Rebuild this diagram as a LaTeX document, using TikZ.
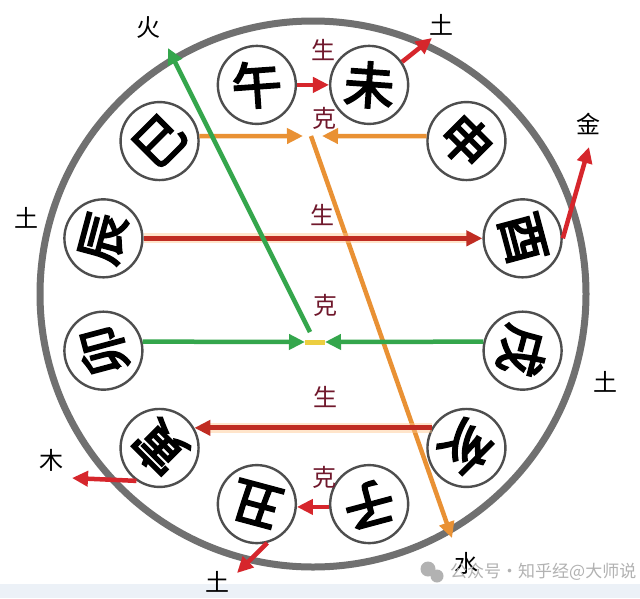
\documentclass[tikz,border=0pt]{standalone}
\usepackage{fontspec}
\newfontfamily\cjk{Noto Sans CJK SC}
\newfontfamily\cjkb[FakeBold=4]{Noto Sans CJK SC}
\usetikzlibrary{arrows.meta}
\definecolor{arrowred}{RGB}{214,38,44}
\definecolor{deepred}{RGB}{192,44,34}
\definecolor{orangeA}{RGB}{233,145,52}
\definecolor{greenA}{RGB}{52,166,76}
\definecolor{yellowA}{RGB}{236,206,64}
\definecolor{labelred}{RGB}{112,24,44}
\definecolor{circgray}{RGB}{78,78,78}
\definecolor{ringgray}{RGB}{112,112,112}
\definecolor{wmgray}{RGB}{178,178,178}
\definecolor{bandblue}{RGB}{236,241,247}
\tikzset{
  tip/.style={-{Triangle[length=16pt,width=15pt]}},
  redarrow/.style={tip, draw=arrowred, line width=4.5pt},
  deeparrow/.style={tip, draw=deepred, line width=5pt,
    preaction={draw, -, line width=10pt, draw=orange!45, opacity=0.45, shorten >=14pt}},
  orangearrow/.style={tip, draw=orangeA, line width=4.5pt},
  greenarrow/.style={tip, draw=greenA, line width=4.5pt},
  branch/.style={circle, draw=circgray, line width=2.4pt, fill=white, minimum size=78pt, inner sep=0pt},
  glyph/.style={font=\cjkb\fontsize{50}{50}\selectfont, inner sep=0pt},
  rel/.style={font=\cjk\fontsize{24}{24}\selectfont, text=labelred, inner sep=0pt},
  elem/.style={font=\cjk\fontsize{24}{24}\selectfont, text=black, inner sep=0pt},
}
\begin{document}
\begin{tikzpicture}[x=1pt,y=-1pt]
\useasboundingbox (0,0) rectangle (640,598);
\fill[white] (0,0) rectangle (640,598);
\fill[bandblue] (0,584) rectangle (640,598);
% outer ring
\draw[ringgray, line width=7pt] (313,294) circle[radius=273];

% branch circles (positions on radius 217 around (313,294.5))
\foreach \nm/\ang in {wu/105, wei/75, shen/45, you/15, xu/-15, hai/-45, zi/-75, chou/-105, yin/-135, mao/-165, chen/165, si/135}{
  \node[branch] (\nm) at ({313+217*cos(\ang)},{294.5-217*sin(\ang)}) {};
}

% coordinates for free ends
\coordinate (oL) at (303,136);
\coordinate (oR) at (322,136);
\coordinate (oS) at (311,136);
\coordinate (shuiTip) at (452,538);
\coordinate (gL) at (305,342);
\coordinate (gR) at (325,342);
\coordinate (gS) at (310,332);
\coordinate (huoTip) at (168,48);
\coordinate (tuTopTip) at (432,38);
\coordinate (jinTip) at (589,147);
\coordinate (muTip) at (72,478);
\coordinate (tuBotTip) at (237,573);

% orange: si -> , shen -> , diagonal to water
\draw[orangearrow] (oS) -- (shuiTip);
\draw[orangearrow] (si.7) -- (oL);
\draw[orangearrow] (shen.173) -- (oR);

% red chen -> you
\draw[deeparrow] (chen.east) -- (you.west);

% yellow joint and green arrows
\draw[yellowA, line width=5pt] (gL) -- (gR);
\draw[greenarrow] (mao.13) -- (gL);
\draw[greenarrow] (xu.167) -- (gR);
\draw[greenarrow] (gS) -- (huoTip);

% red hai -> yin
\draw[deeparrow] (hai.150) -- (yin.30);

% short red arrows
\draw[redarrow] (wu.east) -- (wei.west);
\draw[redarrow] (zi.184) -- (chou.-4);
\draw[redarrow] (wei.35) -- (tuTopTip);
\draw[redarrow] (you.east) -- (jinTip);
\draw[redarrow] (yin.235) -- (muTip);
\draw[redarrow] (chou.-75) -- (tuBotTip);

% glyphs
\node[glyph] (gwu)   at (wu)   {\rotatebox[origin=c]{4}{午}};
\node[glyph] (gwei)  at (wei)  {\rotatebox[origin=c]{-4}{未}};
\node[glyph] (gshen) at (shen) {\rotatebox[origin=c]{-45}{申}};
\node[glyph] (gyou)  at (you)  {\rotatebox[origin=c]{-75}{酉}};
\node[glyph] (gxu)   at (xu)   {\rotatebox[origin=c]{-105}{戌}};
\node[glyph] (ghai)  at (hai)  {\rotatebox[origin=c]{-135}{亥}};
\node[glyph] (gzi)   at (zi)   {\rotatebox[origin=c]{-165}{子}};
\node[glyph] (gchou) at (chou) {\rotatebox[origin=c]{165}{丑}};
\node[glyph] (gyin)  at (yin)  {\rotatebox[origin=c]{135}{寅}};
\node[glyph] (gmao)  at (mao)  {\rotatebox[origin=c]{105}{卯}};
\node[glyph] (gchen) at (chen) {\rotatebox[origin=c]{75}{辰}};
\node[glyph] (gsi)   at (si)   {\rotatebox[origin=c]{45}{巳}};

% relation labels
\node[rel] (r1) at (323,50)  {生};
\node[rel] (r2) at (324,118) {克};
\node[rel] (r3) at (322,215) {生};
\node[rel] (r4) at (325,305) {克};
\node[rel] (r5) at (325,397) {生};
\node[rel] (r6) at (324,477) {克};

% element labels
\node[elem] (huo)  at (148,28)  {火};
\node[elem] (tuT)  at (441,25)  {土};
\node[elem] (jin)  at (588,124) {金};
\node[elem] (tuL)  at (26,218)  {土};
\node[elem] (tuR)  at (605,382) {土};
\node[elem] (mu)   at (51,460)  {木};
\node[elem] (tuB)  at (217,582) {土};
\node[elem] (shui) at (466,563) {水};

% watermark
\fill[wmgray] (428,569) circle[radius=7.5];
\fill[wmgray] (437,576) circle[radius=6.5];
\node[font=\cjk\fontsize{17}{17}\selectfont, text=wmgray, anchor=west, inner sep=0pt] (wm) at (450,572) {公众号·知乎经@大师说};
\end{tikzpicture}
\end{document}
